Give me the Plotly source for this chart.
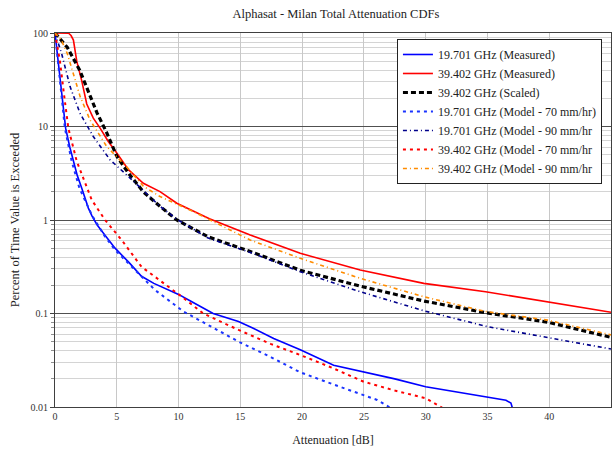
import plotly.graph_objects as go

# ---- data ----
blue_meas_x = [0, 0.27, 0.54, 0.86, 1.2, 1.49, 1.8, 2.16, 2.7, 3.0, 3.4, 4.0, 4.86, 6.0, 7.0, 8.0, 8.9, 10.0, 11.0, 12.8, 14.85, 16.0, 17.7, 19.85, 22.55, 25.0, 27.5, 30.0, 32.5, 35.0, 36.5, 36.9, 37.05]
blue_meas_y = [100, 50, 22, 9.6, 6.0, 4.25, 3.0, 2.2, 1.34, 1.1, 0.89, 0.7, 0.5, 0.35, 0.25, 0.21, 0.186, 0.16, 0.135, 0.1, 0.082, 0.07, 0.054, 0.041, 0.028, 0.0239, 0.02, 0.0165, 0.0145, 0.0129, 0.0118, 0.011, 0.0095]

red_meas_x = [0, 0.8, 1.1, 1.3, 1.49, 1.76, 2.16, 2.57, 3.1, 3.65, 4.3, 5.0, 5.94, 7.15, 8.5, 9.86, 12.5, 15.8, 19.85, 24.7, 29.85, 34.85, 39.85, 45]
red_meas_y = [100, 100, 99.5, 94, 84, 50, 31, 17.4, 12.3, 9.6, 6.95, 5.2, 3.45, 2.47, 2.01, 1.51, 1.03, 0.69, 0.44, 0.292, 0.21, 0.171, 0.134, 0.103]

black_scaled_x = [0, 1.0, 2.0, 2.6, 3.4, 4.2, 5.0, 6.0, 7.15, 8.5, 9.86, 12.4, 15.8, 19.85, 24.7, 29.85, 34.85, 39.85, 45]
black_scaled_y = [100, 70, 40, 25, 14, 8.5, 4.8, 3.1, 2.0, 1.4, 1.0, 0.66, 0.46, 0.29, 0.196, 0.136, 0.102, 0.081, 0.0556]

blue_m70_x = [0, 0.22, 0.48, 0.8, 1.35, 1.97, 2.5, 3.0, 4.0, 4.86, 6.5, 8.1, 10.4, 12.5, 14.86, 17.5, 19.85, 22.5, 25.0, 26.07, 27.15]
blue_m70_y = [100, 50, 22, 9.6, 4.25, 2.2, 1.55, 1.12, 0.68, 0.478, 0.29, 0.178, 0.105, 0.074, 0.05, 0.034, 0.0235, 0.0175, 0.0134, 0.0119, 0.0098]

blue_m90_x = [0, 0.54, 1.22, 2.03, 3.1, 4.46, 6.35, 7.15, 8.5, 9.86, 12.4, 15.8, 19.85, 24.7, 29.85, 35.0, 40.0, 45]
blue_m90_y = [100, 60, 26.7, 13.8, 7.8, 4.4, 2.6, 2.05, 1.4, 1.02, 0.64, 0.45, 0.28, 0.171, 0.107, 0.0724, 0.055, 0.0417]

red_m70_x = [0, 0.4, 0.73, 1.08, 1.76, 2.56, 2.97, 4.05, 5.4, 7.0, 8.64, 10.27, 12.0, 14.86, 17.5, 19.85, 22.5, 25.0, 27.5, 30.0, 31.35]
red_m70_y = [100, 50, 22, 9.6, 4.25, 2.2, 1.64, 1.0, 0.61, 0.316, 0.219, 0.151, 0.1, 0.0667, 0.047, 0.036, 0.026, 0.0186, 0.015, 0.0124, 0.0098]

red_m90_x = [0, 0.5, 1.0, 1.4, 2.03, 2.84, 4.19, 5.8, 7.15, 8.5, 11.2, 15.8, 19.85, 24.7, 29.85, 34.85, 39.85, 45]
red_m90_y = [100, 85, 60, 40, 21, 11.7, 6.1, 3.7, 2.3, 1.78, 1.23, 0.61, 0.39, 0.238, 0.151, 0.105, 0.085, 0.059]

x_ticks = [0, 5, 10, 15, 20, 25, 30, 35, 40, 45]
y_ticks = [0.01, 0.1, 1, 10, 100]
y_tick_text = ["0.01", "0.1", "1", "10", "100"]

SERIF = "Liberation Serif, Times New Roman, serif"

series = [
    ("19.701 GHz (Measured)", blue_meas_x, blue_meas_y, "#0000FF", "solid", 1.6),
    ("39.402 GHz (Measured)", red_meas_x, red_meas_y, "#FF0000", "solid", 1.6),
    ("39.402 GHz (Scaled)", black_scaled_x, black_scaled_y, "#000000", "5px,3px", 3.2),
    ("19.701 GHz (Model - 70 mm/hr)", blue_m70_x, blue_m70_y, "#1a33ff", "3px,4px", 2),
    ("19.701 GHz (Model - 90 mm/hr", blue_m90_x, blue_m90_y, "#00008B", "4px,3px,1px,3px", 1.6),
    ("39.402 GHz (Model - 70 mm/hr", red_m70_x, red_m70_y, "#FF0000", "3px,4px", 2),
    ("39.402 GHz (Model - 90 mm/hr", red_m90_x, red_m90_y, "#FF8C00", "4px,3px,1px,3px", 1.6),
]

fig = go.Figure()
for name, xs, ys, col, dash, w in series:
    fig.add_trace(go.Scatter(x=xs, y=ys, mode="lines", name=name,
                             line=dict(color=col, dash=dash, width=w)))

fig.update_layout(
    width=614, height=449,
    margin=dict(l=55, r=3, t=33, b=42, autoexpand=False),
    paper_bgcolor="white", plot_bgcolor="white",
    title=dict(text="Alphasat - Milan Total Attenuation CDFs", x=0.547, xanchor="center",
               y=0.969, yanchor="middle", font=dict(family=SERIF, size=12.5, color="#222")),
    font=dict(family=SERIF, size=10, color="#333"),
    legend=dict(x=0.615, y=0.984, xanchor="left", yanchor="top",
                bgcolor="white", bordercolor="#222", borderwidth=1, itemwidth=30,
                font=dict(family=SERIF, size=12, color="#222"), tracegroupgap=0),
    showlegend=True,
)

fig.update_xaxes(range=[0, 45], tickvals=x_ticks, showgrid=True, gridcolor="#c8c8c8", gridwidth=1,
                 showline=True, linecolor="#404040", linewidth=1, mirror=True, zeroline=False,
                 ticks="", automargin=False, tickfont=dict(family=SERIF, size=10, color="#333"),
                 title=dict(text="Attenuation [dB]", font=dict(family=SERIF, size=12, color="#222"), standoff=14))

fig.update_yaxes(type="log", range=[-2, 2], tickvals=y_ticks, ticktext=y_tick_text,
                 showgrid=True, gridcolor="#505050", gridwidth=1,
                 showline=True, linecolor="#404040", linewidth=1, mirror=True, zeroline=False,
                 ticks="outside", ticklen=4, tickcolor="#404040", automargin=False,
                 minor=dict(dtick="D1", showgrid=True, gridcolor="#d4d4d4", ticks="outside", ticklen=3, tickcolor="#909090"),
                 tickfont=dict(family=SERIF, size=10, color="#333"),
                 title=dict(text="Percent of Time Value is Exceeded", font=dict(family=SERIF, size=12.5, color="#222"), standoff=8))

fig.write_html("out.html", config={"displayModeBar": False},
               post_script="document.body.style.margin='0';")
